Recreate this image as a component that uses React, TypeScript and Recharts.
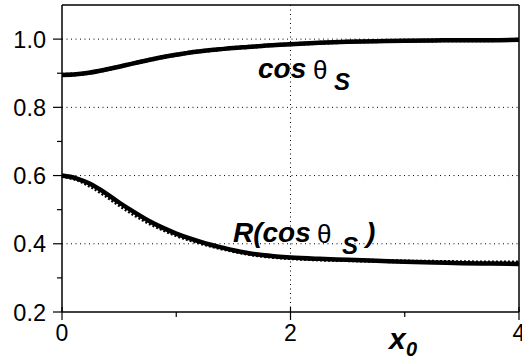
import React from "react";
import { LineChart, Line, XAxis, YAxis, ReferenceLine } from "recharts";

const xValues = [0, 0.125, 0.25, 0.375, 0.5, 0.625, 0.75, 0.875, 1, 1.125, 1.25, 1.375, 1.5, 1.625, 1.75, 1.875, 2, 2.25, 2.5, 2.75, 3, 3.25, 3.5, 3.75, 4];
const cosValues = [0.895, 0.897, 0.902, 0.910, 0.919, 0.929, 0.938, 0.947, 0.954, 0.961, 0.966, 0.970, 0.974, 0.977, 0.980, 0.983, 0.985, 0.989, 0.992, 0.994, 0.995, 0.996, 0.997, 0.997, 0.998];
const cosDottedValues = [0.895, 0.897, 0.902, 0.910, 0.919, 0.929, 0.938, 0.947, 0.954, 0.961, 0.966, 0.970, 0.974, 0.977, 0.980, 0.983, 0.985, 0.989, 0.992, 0.994, 0.995, 0.996, 0.997, 0.997, 0.998];
const rValues = [0.600, 0.592, 0.575, 0.550, 0.521, 0.494, 0.469, 0.448, 0.430, 0.415, 0.402, 0.391, 0.381, 0.373, 0.367, 0.363, 0.360, 0.356, 0.353, 0.350, 0.347, 0.345, 0.343, 0.342, 0.341];
const rDottedValues = [0.599, 0.589, 0.569, 0.543, 0.514, 0.487, 0.463, 0.443, 0.425, 0.411, 0.399, 0.388, 0.379, 0.371, 0.365, 0.361, 0.358, 0.354, 0.352, 0.350, 0.348, 0.347, 0.346, 0.345, 0.345];

const yTicks = [0.2, 0.3, 0.4, 0.5, 0.6, 0.7, 0.8, 0.9, 1.0, 1.1];
const yTickLabels = ["0.2", "0.4", "0.6", "0.8", "1.0"];
const xTicks = [0, 1, 2, 3, 4];
const xTickLabels = ["0", "2", "4"];
const gridY = [0.4, 0.6, 0.8, 1.0];
const gridX = [2];

const data = xValues.map((x, i) => ({
  x,
  cos: cosValues[i],
  cosDot: cosDottedValues[i],
  r: rValues[i],
  rDot: rDottedValues[i],
}));

const FONT = "'Liberation Sans', Arial, sans-serif";

const YTick = (props: any) => {
  const { x, y, payload } = props;
  const label = Number(payload.value).toFixed(1);
  const isMajor = yTickLabels.includes(label);
  if (label === "1.1") return null;
  return (
    <g>
      <line x1={x - (isMajor ? 9 : 5)} y1={y} x2={x} y2={y} stroke="#000" strokeWidth={1.2} />
      {isMajor && (
        <text x={x - 16} y={y + 8.5} textAnchor="end" fontSize={23.5} fontFamily={FONT} fill="#000">
          {label}
        </text>
      )}
    </g>
  );
};

const XTick = (props: any) => {
  const { x, y, payload } = props;
  const label = String(payload.value);
  const isMajor = xTickLabels.includes(label);
  return (
    <g>
      <line x1={x} y1={y - (isMajor ? 5 : 0)} x2={x} y2={y + (isMajor ? 8 : 5)} stroke="#000" strokeWidth={1.2} />
      {isMajor && (
        <text x={x} y={y + 29} textAnchor="middle" fontSize={23} fontFamily={FONT} fill="#000">
          {label}
        </text>
      )}
    </g>
  );
};

export default function App() {
  return (
    <div style={{ position: "absolute", left: 0, top: 0, width: 522, height: 360, background: "#fff" }}>
      <LineChart width={522} height={360} data={data} margin={{ top: 5, right: 3, bottom: 0, left: 0 }}>
        <XAxis
          dataKey="x"
          type="number"
          domain={[0, 4]}
          ticks={xTicks}
          interval={0}
          height={48}
          tickSize={0}
          tickMargin={0}
          tickLine={false}
          axisLine={{ stroke: "#000", strokeWidth: 1.5 }}
          tick={<XTick />}
        />
        <YAxis
          type="number"
          domain={[0.2, 1.1]}
          ticks={yTicks}
          interval={0}
          width={62}
          tickSize={0}
          tickMargin={0}
          tickLine={false}
          axisLine={{ stroke: "#000", strokeWidth: 1.5 }}
          tick={<YTick />}
        />
        {gridY.map((v) => (
          <ReferenceLine key={"gy" + v} y={v} stroke="#000" strokeWidth={1} strokeDasharray="1 3.5" />
        ))}
        {gridX.map((v) => (
          <ReferenceLine key={"gx" + v} x={v} stroke="#000" strokeWidth={1} strokeDasharray="1 3.5" />
        ))}
        <ReferenceLine y={1.1} stroke="#000" strokeWidth={1.5} />
        <ReferenceLine x={4} stroke="#000" strokeWidth={1.5} />
        <Line type="monotone" dataKey="rDot" stroke="#000" strokeWidth={4} strokeDasharray="2 2" dot={false} isAnimationActive={false} />
        <Line type="monotone" dataKey="cosDot" stroke="#000" strokeWidth={4} strokeDasharray="2 2" dot={false} isAnimationActive={false} />
        <Line type="monotone" dataKey="r" stroke="#000" strokeWidth={4.5} dot={false} isAnimationActive={false} />
        <Line type="monotone" dataKey="cos" stroke="#000" strokeWidth={4.5} dot={false} isAnimationActive={false} />
      </LineChart>
      <svg width={522} height={360} style={{ position: "absolute", left: 0, top: 0, pointerEvents: "none" }}>
        <g fontFamily={FONT} fill="#000">
          <text x={258} y={78} fontSize={28} fontWeight="bold" fontStyle="italic">cos</text>
          <text x={313} y={79} fontSize={26}>θ</text>
          <text x={334} y={90} fontSize={24} fontWeight="bold" fontStyle="italic">S</text>

          <text x={233} y={242} fontSize={28} fontWeight="bold" fontStyle="italic">R(cos</text>
          <text x={317} y={243} fontSize={26}>θ</text>
          <text x={342} y={254} fontSize={24} fontWeight="bold" fontStyle="italic">S</text>
          <text x={366} y={242} fontSize={28} fontWeight="bold" fontStyle="italic">)</text>

          <text x={389} y={349} fontSize={30} fontWeight="bold" fontStyle="italic">x</text>
          <text x={406} y={356} fontSize={20} fontWeight="bold" fontStyle="italic">0</text>
        </g>
      </svg>
    </div>
  );
}
